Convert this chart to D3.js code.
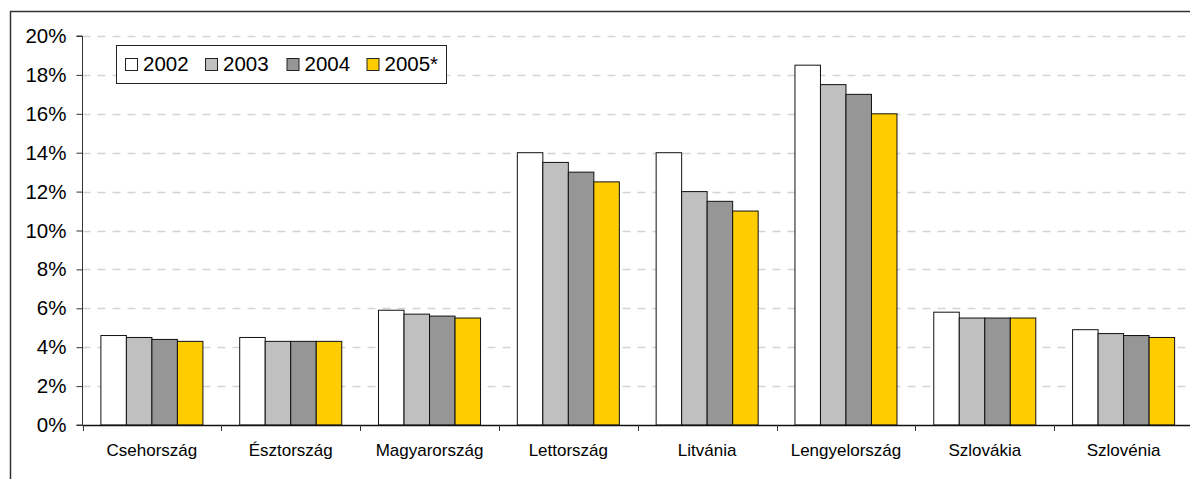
<!DOCTYPE html>
<html>
<head>
<meta charset="utf-8">
<script src="https://cdn.jsdelivr.net/npm/d3@7"></script>
<style>
  html, body { margin: 0; padding: 0; background: #fff; }
  svg { display: block; font-family: "Liberation Sans", Arial, sans-serif; }
</style>
</head>
<body>
<svg id="chart" width="1190" height="479"></svg>
<script>
// Országok és évek
const countries = ["Csehország", "Észtország", "Magyarország", "Lettország", "Litvánia", "Lengyelország", "Szlovákia", "Szlovénia"];
const years = ["2002", "2003", "2004", "2005*"];

// Értékek (%) évenként
const v2002 = [4.6, 4.5, 5.9, 14.0, 14.0, 18.5, 5.8, 4.9];
const v2003 = [4.5, 4.3, 5.7, 13.5, 12.0, 17.5, 5.5, 4.7];
const v2004 = [4.4, 4.3, 5.6, 13.0, 11.5, 17.0, 5.5, 4.6];
const v2005 = [4.3, 4.3, 5.5, 12.5, 11.0, 16.0, 5.5, 4.5];
const series = [v2002, v2003, v2004, v2005];

const yTicks = [0, 2, 4, 6, 8, 10, 12, 14, 16, 18, 20];
const colors = ["#ffffff", "#c0c0c0", "#969696", "#ffcc00"];

const svg = d3.select("#chart");

// Keret
svg.append("path")
  .attr("d", "M10.5,479 L10.5,11.5 L1190,11.5")
  .attr("fill", "none").attr("stroke", "#333").attr("stroke-width", 1.5);

const plotLeft = 82.5, plotRight = 1193, plotTop = 36, plotBottom = 425;

const x0 = d3.scaleBand().domain(countries).range([plotLeft, plotRight]).paddingInner(0.265).paddingOuter(0.1325);
const x1 = d3.scaleBand().domain(years).range([0, x0.bandwidth()]);
const y = d3.scaleLinear().domain([0, 20]).range([plotBottom, plotTop]);

// Rácsvonalak
svg.append("g").selectAll("line")
  .data(yTicks.filter(d => d > 0))
  .join("line")
  .attr("x1", plotLeft).attr("x2", 1190)
  .attr("y1", d => Math.round(y(d)) + 0.5).attr("y2", d => Math.round(y(d)) + 0.5)
  .attr("stroke", "#d4d4d4").attr("stroke-width", 1.5)
  .attr("stroke-dasharray", "8,7");

// Oszlopok
const groups = svg.append("g").selectAll("g")
  .data(countries)
  .join("g")
  .attr("transform", d => `translate(${x0(d)},0)`);

groups.selectAll("rect")
  .data((c, i) => years.map((yr, j) => ({ yr, j, v: series[j][i] })))
  .join("rect")
  .attr("x", d => x1(d.yr))
  .attr("y", d => y(d.v))
  .attr("width", x1.bandwidth())
  .attr("height", d => y(0) - y(d.v))
  .attr("fill", d => colors[d.j])
  .attr("stroke", "#111").attr("stroke-width", 1);

// Y tengely
const yAxis = d3.axisLeft(y).tickValues(yTicks).tickSize(6).tickPadding(10)
  .tickFormat(d => d + "%");
const gy = svg.append("g").attr("transform", `translate(${plotLeft},0)`).call(yAxis);
gy.select(".domain").attr("stroke", "#333").attr("d", `M-6,${plotBottom}H0V${plotTop}H-6`).attr("stroke-width", 1);
gy.selectAll(".tick line").attr("stroke", "#333");
gy.selectAll(".tick text").attr("font-size", 20.5).attr("fill", "#000")
  .attr("font-family", "Liberation Sans, Arial, sans-serif");

// X tengely
const xAxis = svg.append("g");
xAxis.append("line")
  .attr("x1", plotLeft).attr("x2", 1190)
  .attr("y1", plotBottom + 0.5).attr("y2", plotBottom + 0.5)
  .attr("stroke", "#111").attr("stroke-width", 1.5);
const bounds = countries.map((c, i) => plotLeft + i * x0.step());
xAxis.selectAll("line.tk")
  .data(bounds)
  .join("line").attr("class", "tk")
  .attr("x1", d => Math.round(d) + 0.5).attr("x2", d => Math.round(d) + 0.5)
  .attr("y1", plotBottom).attr("y2", plotBottom + 6)
  .attr("stroke", "#333");
xAxis.selectAll("text")
  .data(countries)
  .join("text")
  .attr("x", d => x0(d) + x0.bandwidth() / 2)
  .attr("y", 456)
  .attr("text-anchor", "middle")
  .attr("font-size", 17)
  .attr("fill", "#000")
  .text(d => d);

// Jelmagyarázat
const lg = svg.append("g").attr("transform", "translate(116.5,45.5)");
lg.append("rect").attr("width", 330).attr("height", 38)
  .attr("fill", "#fff").attr("stroke", "#222").attr("stroke-width", 1);
const legendX = [9, 89, 170.5, 250.5];
const items = lg.selectAll("g.item").data(years).join("g").attr("class", "item")
  .attr("transform", (d, i) => `translate(${legendX[i]},0)`);
items.append("rect").attr("x", 0).attr("y", 13).attr("width", 12).attr("height", 12)
  .attr("fill", (d, i) => colors[i]).attr("stroke", "#222").attr("stroke-width", 1);
items.append("text").attr("x", 17.5).attr("y", 25.5)
  .attr("font-size", 20.5).attr("fill", "#000").text(d => d);
</script>
</body>
</html>
